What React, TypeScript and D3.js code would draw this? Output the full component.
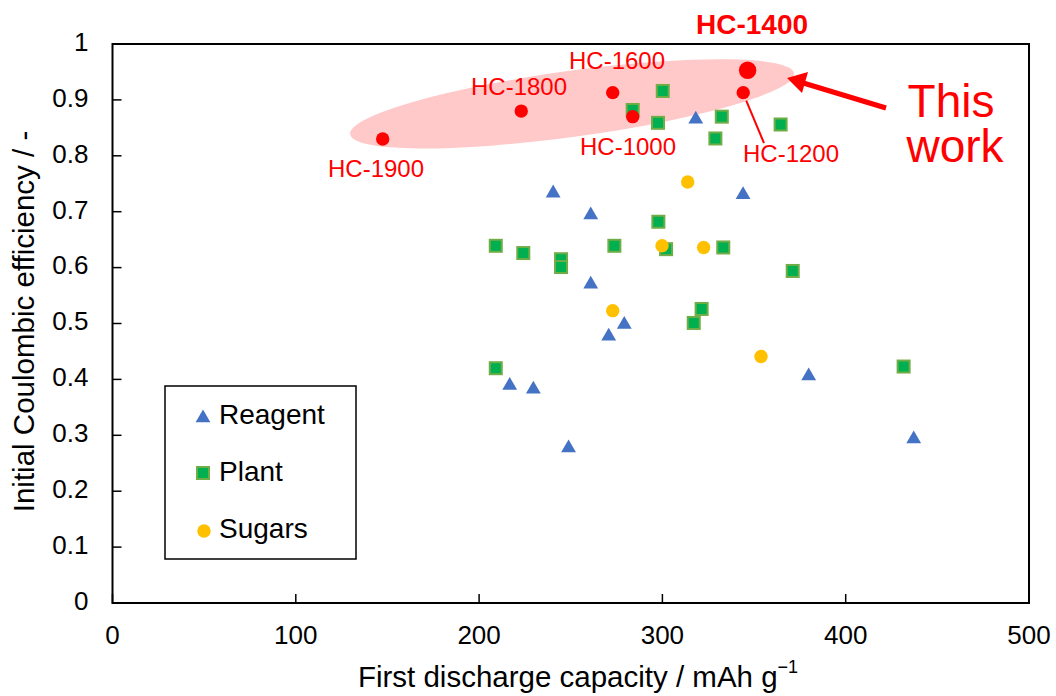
import React from "react";
import * as d3 from "d3";

const reagentX = [240.4, 260.9, 318.2, 344.0, 260.9, 279.2, 270.7, 216.7, 229.6, 248.8, 379.8, 437.1];
const reagentY = [0.735, 0.696, 0.867, 0.732, 0.572, 0.500, 0.479, 0.391, 0.384, 0.279, 0.408, 0.295];

const plantX = [283.8, 300.2, 297.6, 332.4, 328.9, 364.5, 209.1, 224.1, 244.7, 244.7, 273.8, 297.8, 302.0, 333.2, 371.1, 321.4, 317.1, 209.1, 431.6];
const plantY = [0.882, 0.916, 0.859, 0.870, 0.831, 0.856, 0.639, 0.626, 0.615, 0.601, 0.639, 0.682, 0.633, 0.636, 0.594, 0.526, 0.501, 0.420, 0.423];

const sugarX = [313.8, 299.8, 322.5, 272.9, 353.8];
const sugarY = [0.753, 0.639, 0.636, 0.523, 0.441];

const hcNames = ["HC-1900", "HC-1800", "HC-1600", "HC-1000", "HC-1200", "HC-1400"];
const hcX = [147.4, 223.0, 272.9, 283.8, 344.1, 346.5];
const hcY = [0.830, 0.880, 0.913, 0.870, 0.913, 0.953];

const xTicks = [0, 100, 200, 300, 400, 500];
const yTicks = [0, 0.1, 0.2, 0.3, 0.4, 0.5, 0.6, 0.7, 0.8, 0.9, 1];

const FONT = "Arial, 'Liberation Sans', sans-serif";

export default function App() {
  const W = 1056, H = 696;
  const left = 112.5, right = 1029, top = 44, bottom = 603;
  const x = d3.scaleLinear().domain([0, 500]).range([left, right]);
  const y = d3.scaleLinear().domain([0, 1]).range([bottom, top]);

  const tri = d3.symbol().type(d3.symbolTriangle).size(95)() as string;
  const tick = 9;

  const labelPos: Record<string, [number, number, string]> = {
    "HC-1900": [376, 171, "normal"],
    "HC-1800": [519, 89, "normal"],
    "HC-1600": [617, 63, "normal"],
    "HC-1000": [628, 149, "normal"],
    "HC-1200": [791, 156, "normal"],
    "HC-1400": [752, 27, "bold"],
  };

  const ex = 250.7, ey = 0.893;
  const ecx = x(ex), ecy = y(ey);

  return (
    <svg width={W} height={H} style={{ position: "absolute", left: 0, top: 0, background: "#fff" }} fontFamily={FONT}>
      <rect x={0} y={0} width={W} height={H} fill="#fff" />
      <ellipse cx={ecx} cy={ecy} rx={224} ry={33} fill="#ffc9c9" transform={`rotate(-7.8 ${ecx} ${ecy})`} />

      <rect x={left} y={top} width={right - left} height={bottom - top} fill="none" stroke="#000" strokeWidth={2} />
      {xTicks.map((t) => (
        <g key={"xt" + t}>
          <line x1={x(t)} x2={x(t)} y1={bottom} y2={bottom - tick} stroke="#000" strokeWidth={1.5} />
          <text x={x(t)} y={bottom + 34} fontSize={26} textAnchor="middle" dominantBaseline="middle" fill="#000">{t}</text>
        </g>
      ))}
      {yTicks.map((t) => (
        <g key={"yt" + t}>
          <line x1={left} x2={left + tick} y1={y(t)} y2={y(t)} stroke="#000" strokeWidth={1.5} />
          <text x={left - 24} y={y(t)} fontSize={26} textAnchor="end" dominantBaseline="middle" fill="#000">{t}</text>
        </g>
      ))}
      <text x={578} y={679} fontSize={29.5} textAnchor="middle" dominantBaseline="middle" fill="#000">
        First discharge capacity / mAh g<tspan fontSize={18} dy={-11}>−1</tspan>
      </text>
      <text transform={`translate(26 ${(top + bottom) / 2 - 2}) rotate(-90)`} fontSize={29.5} textAnchor="middle" dominantBaseline="middle" fill="#000">
        Initial Coulombic efficiency / -
      </text>

      {plantX.map((v, i) => (
        <rect key={"p" + i} x={x(v) - 6} y={y(plantY[i]) - 6} width={12} height={12} fill="#00b050" stroke="#70ad47" strokeWidth={2} />
      ))}
      {reagentX.map((v, i) => (
        <path key={"r" + i} d={tri} transform={`translate(${x(v)},${y(reagentY[i]) + 1})`} fill="#4472c4" />
      ))}
      {sugarX.map((v, i) => (
        <circle key={"s" + i} cx={x(v)} cy={y(sugarY[i])} r={6.7} fill="#ffc000" />
      ))}
      {hcX.map((v, i) => (
        <circle key={"h" + i} cx={x(v)} cy={y(hcY[i])} r={hcNames[i] === "HC-1400" ? 8.7 : 6.7} fill="#ff0000" />
      ))}
      {hcNames.map((n) => {
        const [lx, ly, fw] = labelPos[n];
        return (
          <text key={"l" + n} x={lx} y={ly} fontSize={n === "HC-1400" ? 28 : 24} fontWeight={fw} textAnchor="middle" dominantBaseline="middle" fill="#ff0000">{n}</text>
        );
      })}
      <line x1={x(hcX[4]) + 3} y1={y(hcY[4]) + 8} x2={764} y2={143} stroke="#ff0000" strokeWidth={2} />

      <line x1={886} y1={108} x2={800} y2={82} stroke="#ff0000" strokeWidth={5} />
      <path d="M787,78 L808,72 L802,93 Z" fill="#ff0000" />
      <text fontSize={46} textAnchor="middle" fill="#ff0000">
        <tspan x={951} y={117}>This</tspan>
        <tspan x={955} y={162}>work</tspan>
      </text>

      <rect x={165} y={386} width={191} height={173} fill="#fff" stroke="#000" strokeWidth={1.5} />
      <path d={tri} transform="translate(203,418)" fill="#4472c4" />
      <text x={219} y={417} fontSize={28} dominantBaseline="middle" fill="#000">Reagent</text>
      <rect x={197} y={467} width={12} height={12} fill="#00b050" stroke="#70ad47" strokeWidth={2} />
      <text x={219} y={474} fontSize={28} dominantBaseline="middle" fill="#000">Plant</text>
      <circle cx={204} cy={531} r={6.7} fill="#ffc000" />
      <text x={219} y={531} fontSize={28} dominantBaseline="middle" fill="#000">Sugars</text>
    </svg>
  );
}
